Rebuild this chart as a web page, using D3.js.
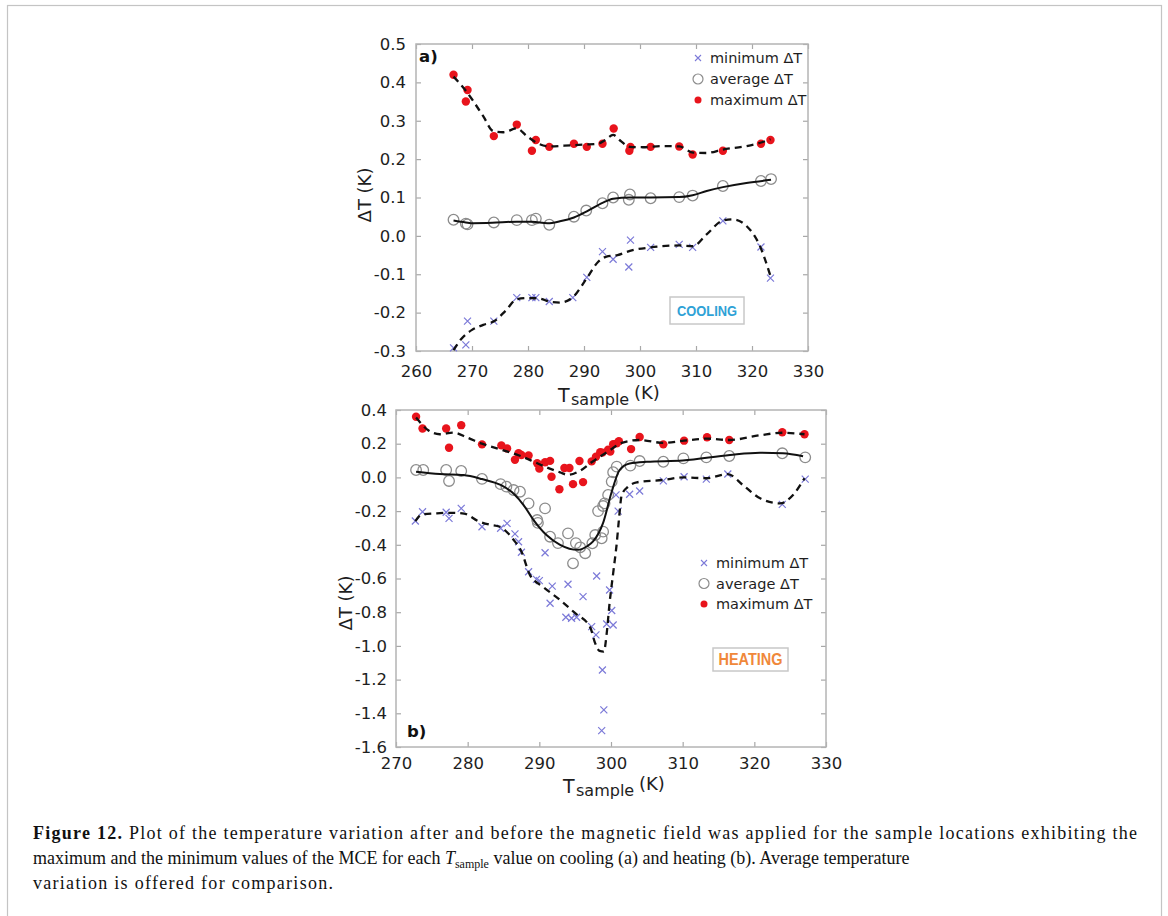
<!DOCTYPE html>
<html>
<head>
<meta charset="utf-8">
<script src="https://cdn.jsdelivr.net/npm/d3@7"></script>
<style>
  body { margin: 0; background: #fff; }
  svg { display: block; }
</style>
</head>
<body>
<div id="chart"></div>
<script>
// values: [T_sample (K), deltaT (K)]
const coolingMin = [[266.7,-0.292],[268.9,-0.284],[269.2,-0.222],[273.9,-0.222],[278.0,-0.161],[280.7,-0.161],[281.4,-0.161],[283.8,-0.171],[288.0,-0.161],[290.5,-0.108],[293.3,-0.041],[295.2,-0.061],[298.0,-0.081],[298.3,-0.011],[301.9,-0.03],[307.0,-0.022],[309.4,-0.03],[314.8,0.039],[321.6,-0.029],[323.3,-0.11]];
const coolingAvg = [[266.7,0.042],[268.9,0.032],[269.2,0.03],[273.9,0.035],[278.0,0.041],[280.7,0.041],[281.4,0.045],[283.8,0.029],[288.2,0.05],[290.4,0.066],[293.3,0.085],[295.2,0.1],[298.0,0.094],[298.2,0.108],[301.9,0.098],[307.0,0.101],[309.4,0.105],[314.8,0.13],[321.6,0.143],[323.4,0.148]];
const coolingMax = [[266.7,0.42],[268.9,0.35],[269.2,0.38],[273.9,0.26],[278.0,0.29],[280.7,0.222],[281.4,0.25],[283.8,0.232],[288.2,0.24],[290.5,0.232],[293.3,0.24],[295.3,0.28],[298.1,0.222],[298.3,0.232],[301.9,0.232],[307.0,0.233],[309.4,0.212],[314.8,0.222],[321.6,0.24],[323.3,0.25]];

// smoothed trend curves as drawn in the figure
const coolingMinFit = [[266.7,-0.298],[268,-0.27],[270,-0.245],[272,-0.232],[274,-0.222],[276,-0.195],[278,-0.165],[280,-0.162],[282,-0.163],[284,-0.172],[285.7,-0.174],[288,-0.16],[290.5,-0.11],[292.5,-0.068],[294,-0.054],[296,-0.05],[298.2,-0.039],[301.9,-0.03],[307,-0.025],[309.4,-0.027],[311.9,0.004],[314.8,0.04],[316.6,0.043],[319,0.026],[321.4,-0.026],[323.3,-0.105]];
const coolingAvgFit = [[266.7,0.04],[268.9,0.035],[270.2,0.033],[273.6,0.034],[278,0.037],[280.7,0.037],[283.5,0.033],[285.7,0.038],[288.2,0.048],[290.5,0.064],[293.3,0.086],[295.2,0.097],[298.2,0.1],[301.9,0.1],[307,0.101],[309.4,0.106],[311.9,0.117],[314.8,0.127],[319,0.138],[323.4,0.146]];
const coolingMaxFit = [[266.7,0.415],[268.8,0.38],[270,0.356],[272,0.312],[273.8,0.273],[275.6,0.27],[278,0.28],[279.8,0.26],[281.5,0.243],[283.9,0.233],[286.5,0.235],[289.9,0.238],[292.5,0.24],[293.8,0.25],[295.2,0.263],[296.5,0.248],[298.2,0.232],[300.5,0.231],[304,0.234],[307,0.233],[309.5,0.217],[311.9,0.216],[314.8,0.225],[319,0.234],[321.8,0.244],[323.3,0.252]];

const heatingMin = [[272.7,-0.259],[273.7,-0.204],[277.0,-0.207],[277.4,-0.243],[279.1,-0.184],[282.0,-0.293],[284.6,-0.302],[285.5,-0.273],[286.6,-0.335],[287.1,-0.382],[287.5,-0.444],[288.5,-0.56],[289.6,-0.605],[290.0,-0.613],[290.8,-0.447],[291.5,-0.747],[291.8,-0.645],[293.7,-0.83],[294.0,-0.634],[294.5,-0.836],[295.2,-0.83],[296.1,-0.708],[297.3,-0.886],[297.9,-0.935],[298.0,-0.585],[298.8,-1.143],[299.0,-1.38],[298.7,-1.503],[299.4,-0.87],[299.8,-0.668],[300.1,-0.79],[300.3,-0.876],[300.7,-0.104],[301.0,-0.2],[302.6,-0.1],[304.0,-0.081],[307.3,-0.021],[310.2,0.004],[313.3,-0.01],[316.3,0.02],[323.9,-0.16],[327.1,-0.01]];
const heatingAvg = [[272.8,0.044],[273.8,0.044],[277.0,0.044],[277.4,-0.021],[279.1,0.038],[282.0,-0.009],[284.6,-0.04],[285.4,-0.055],[286.4,-0.075],[287.3,-0.085],[288.5,-0.154],[289.7,-0.253],[289.8,-0.27],[290.8,-0.184],[291.5,-0.352],[292.6,-0.39],[294.0,-0.332],[294.7,-0.51],[295.1,-0.39],[295.7,-0.415],[296.4,-0.45],[297.4,-0.391],[297.8,-0.342],[298.2,-0.2],[298.7,-0.361],[298.9,-0.322],[298.9,-0.17],[299.1,-0.154],[299.6,-0.104],[300.1,-0.025],[300.3,0.031],[300.8,0.064],[302.7,0.07],[304.0,0.097],[307.3,0.093],[310.1,0.113],[313.3,0.119],[316.5,0.127],[323.9,0.143],[327.1,0.119]];
const heatingMax = [[272.8,0.36],[273.7,0.29],[277.0,0.29],[277.4,0.176],[279.1,0.31],[282.0,0.196],[284.7,0.19],[285.5,0.172],[286.6,0.105],[287.1,0.143],[287.5,0.133],[288.5,0.13],[289.7,0.084],[290.0,0.052],[290.8,0.09],[291.5,0.098],[291.7,0.004],[292.8,-0.07],[293.5,0.056],[294.2,0.056],[294.7,-0.04],[295.6,0.097],[296.1,-0.028],[297.3,0.095],[297.9,0.123],[298.5,0.15],[298.8,0.147],[299.6,0.165],[299.9,0.153],[300.3,0.197],[300.8,0.202],[301.1,0.215],[302.8,0.168],[304.0,0.24],[307.3,0.196],[310.2,0.218],[313.4,0.238],[316.5,0.222],[323.9,0.268],[327.0,0.256]];

const heatingMinFit = [[272.7,-0.26],[273.6,-0.22],[275.7,-0.213],[277.7,-0.21],[279.5,-0.215],[281.5,-0.26],[283,-0.28],[284.5,-0.293],[285.6,-0.33],[286.4,-0.37],[287.5,-0.44],[288.7,-0.58],[290.5,-0.649],[292.9,-0.728],[295,-0.806],[297.1,-0.89],[297.8,-0.985],[298.4,-1.03],[299.0,-1.034],[299.4,-0.926],[299.8,-0.747],[300.3,-0.569],[300.8,-0.391],[301.1,-0.253],[301.5,-0.104],[302.4,-0.055],[303.6,-0.029],[307.3,-0.015],[310.1,0.0],[313.3,-0.005],[316.3,0.02],[318.4,-0.045],[320.8,-0.124],[323.6,-0.154],[325.4,-0.104],[327,-0.005]];
const heatingAvgFit = [[272.8,0.034],[276.1,0.02],[279.4,0.014],[282,-0.01],[284.6,-0.045],[286.5,-0.1],[287.8,-0.164],[289.2,-0.253],[291,-0.342],[292.9,-0.4],[295.4,-0.43],[296.6,-0.41],[297.5,-0.38],[298.9,-0.27],[300.1,-0.085],[301.2,0.044],[302.6,0.083],[305,0.093],[310,0.1],[316.6,0.133],[320.8,0.146],[324,0.143],[326.8,0.125]];
const heatingMaxFit = [[272.8,0.355],[274.5,0.28],[276.1,0.256],[278,0.266],[280,0.235],[282,0.2],[284.6,0.165],[287.2,0.13],[289.4,0.09],[291,0.06],[292.9,0.03],[294,0.015],[295.7,0.04],[297.3,0.09],[299.8,0.16],[301.5,0.205],[304,0.222],[307.3,0.205],[310.2,0.218],[313.4,0.23],[316.5,0.222],[320.8,0.25],[323.9,0.265],[327,0.256]];

const coolingXTicks = [260, 270, 280, 290, 300, 310, 320, 330];
const coolingYTicks = [-0.3, -0.2, -0.1, 0.0, 0.1, 0.2, 0.3, 0.4, 0.5];
const heatingXTicks = [270, 280, 290, 300, 310, 320, 330];
const heatingYTicks = [-1.6, -1.4, -1.2, -1.0, -0.8, -0.6, -0.4, -0.2, 0.0, 0.2, 0.4];
const legendLabels = ["minimum \u0394T", "average \u0394T", "maximum \u0394T"];

const FONT = "'DejaVu Sans', sans-serif";
const colMin = "#7c7ad8";
const colAvg = "#8c8c8c";
const colMax = "#e8141c";
const colFrame = "#b4b4b4";

const svg = d3.select("#chart").append("svg")
  .attr("width", 1168).attr("height", 916)
  .style("font-family", FONT);

// outer figure frame
svg.append("rect")
  .attr("x", 7.5).attr("y", 5.5).attr("width", 1154).attr("height", 930)
  .attr("fill", "none").attr("stroke", "#c4c4c4").attr("stroke-width", 1.2);

function drawMarkers(g, data, kind, x, y) {
  if (kind === "min") {
    g.selectAll(null).data(data).enter().append("path")
      .attr("d", d => `M${x(d[0]) - 3.5},${y(d[1]) - 3.5}l7,7M${x(d[0]) - 3.5},${y(d[1]) + 3.5}l7,-7`)
      .attr("stroke", colMin).attr("stroke-width", 1.2).attr("fill", "none");
  } else if (kind === "avg") {
    g.selectAll(null).data(data).enter().append("circle")
      .attr("cx", d => x(d[0])).attr("cy", d => y(d[1])).attr("r", 5.3)
      .attr("fill", "none").attr("stroke", colAvg).attr("stroke-width", 1.3);
  } else {
    g.selectAll(null).data(data).enter().append("circle")
      .attr("cx", d => x(d[0])).attr("cy", d => y(d[1])).attr("r", 4.2)
      .attr("fill", colMax);
  }
}

function drawPanel(p) {
  const x = d3.scaleLinear().domain(p.xDomain).range(p.xRange);
  const y = d3.scaleLinear().domain(p.yDomain).range(p.yRange);
  const g = svg.append("g");
  const fmt = d => d.toFixed(1);

  g.append("g").attr("transform", `translate(${p.xRange[0]},0)`)
    .call(d3.axisLeft(y).tickValues(p.yTicks).tickFormat(fmt).tickSizeInner(-5).tickSizeOuter(0).tickPadding(p.yPad));
  g.append("g").attr("transform", `translate(0,${p.yRange[0]})`)
    .call(d3.axisBottom(x).tickValues(p.xTicks).tickFormat(d3.format("d")).tickSizeInner(-5).tickSizeOuter(0).tickPadding(p.xPad));
  g.append("g").attr("transform", `translate(${p.xRange[1]},0)`)
    .call(d3.axisRight(y).tickValues(p.yTicks).tickFormat("").tickSizeInner(-5).tickSizeOuter(0));
  g.append("g").attr("transform", `translate(0,${p.yRange[1]})`)
    .call(d3.axisTop(x).tickValues(p.xTicks).tickFormat("").tickSizeInner(-5).tickSizeOuter(0));

  g.selectAll(".domain").remove();
  g.selectAll(".tick line").attr("stroke", "#a8a8a8").attr("stroke-width", 1.2);
  g.selectAll(".tick text").attr("fill", "#1e1e1e").style("font-family", FONT).style("font-size", "16.5px");

  g.append("rect")
    .attr("x", p.xRange[0]).attr("y", p.yRange[1])
    .attr("width", p.xRange[1] - p.xRange[0]).attr("height", p.yRange[0] - p.yRange[1])
    .attr("fill", "none").attr("stroke", colFrame).attr("stroke-width", 1.5);

  // markers, then trend curves on top
  drawMarkers(g, p.min, "min", x, y);
  drawMarkers(g, p.avg, "avg", x, y);
  drawMarkers(g, p.max, "max", x, y);

  const line = d3.line().x(d => x(d[0])).y(d => y(d[1])).curve(d3.curveMonotoneX);
  g.append("path").datum(p.minFit).attr("d", line)
    .attr("fill", "none").attr("stroke", "#111").attr("stroke-width", 2.3).attr("stroke-dasharray", "7,5");
  g.append("path").datum(p.maxFit).attr("d", line)
    .attr("fill", "none").attr("stroke", "#111").attr("stroke-width", 2.3).attr("stroke-dasharray", "7,5");
  g.append("path").datum(p.avgFit).attr("d", line)
    .attr("fill", "none").attr("stroke", "#111").attr("stroke-width", 2);

  // panel letter
  g.append("text").attr("x", p.letterPos[0]).attr("y", p.letterPos[1])
    .attr("font-weight", "bold").attr("font-size", 16.5).attr("fill", "#111").text(p.letter);

  // y axis title
  g.append("text")
    .attr("transform", `translate(${p.yTitlePos[0]},${p.yTitlePos[1]}) rotate(-90)`)
    .attr("text-anchor", "middle").attr("font-size", 18).attr("fill", "#1e1e1e")
    .text("\u0394T (K)");

  // x axis title with subscript
  const t = p.xTitlePos;
  g.append("text").attr("x", t[0]).attr("y", t[1]).attr("font-size", 19).attr("fill", "#1e1e1e").text("T");
  g.append("text").attr("x", t[0] + 13).attr("y", t[1] + 3).attr("font-size", 16).attr("fill", "#1e1e1e").text("sample");
  g.append("text").attr("x", t[0] + 76).attr("y", t[1] - 3).attr("font-size", 18).attr("fill", "#1e1e1e").text("(K)");

  // legend
  const lg = g.append("g").attr("transform", `translate(${p.legendPos[0]},${p.legendPos[1]})`);
  legendLabels.forEach((label, i) => {
    const ly = i * p.legendStep;
    if (i === 0) {
      lg.append("path").attr("d", `M-3,${ly - 3}l6,6M-3,${ly + 3}l6,-6`)
        .attr("stroke", colMin).attr("stroke-width", 1.1);
    } else if (i === 1) {
      lg.append("circle").attr("cx", 0).attr("cy", ly).attr("r", 5)
        .attr("fill", "none").attr("stroke", colAvg).attr("stroke-width", 1.2);
    } else {
      lg.append("circle").attr("cx", 0).attr("cy", ly).attr("r", 3.5).attr("fill", colMax);
    }
    lg.append("text").attr("x", 12).attr("y", ly).attr("dy", "0.36em")
      .attr("font-size", 14.5).attr("fill", "#1e1e1e").text(label);
  });

  // mode box
  const b = p.modeBox;
  g.append("rect").attr("x", b[0]).attr("y", b[1]).attr("width", b[2]).attr("height", b[3])
    .attr("fill", "#fff").attr("stroke", "#c8c8c8").attr("stroke-width", 1.5);
  g.append("text").attr("x", b[0] + b[2] / 2).attr("y", b[1] + b[3] / 2).attr("dy", "0.36em")
    .attr("text-anchor", "middle").attr("font-weight", "bold").attr("font-size", p.modeSize)
    .attr("textLength", p.modeLen).attr("lengthAdjust", "spacingAndGlyphs")
    .attr("fill", p.modeColor).style("font-family", "'Liberation Sans', sans-serif").text(p.mode);
}

drawPanel({
  xDomain: [260, 330], xRange: [416, 808],
  yDomain: [-0.3, 0.5], yRange: [351, 44],
  xTicks: coolingXTicks, yTicks: coolingYTicks, xPad: 14, yPad: 10,
  min: coolingMin, avg: coolingAvg, max: coolingMax,
  minFit: coolingMinFit, avgFit: coolingAvgFit, maxFit: coolingMaxFit,
  letter: "a)", letterPos: [419, 62],
  yTitlePos: [371, 195], xTitlePos: [558, 402],
  legendPos: [698, 58], legendStep: 21,
  modeBox: [670, 297, 74, 27], mode: "COOLING", modeColor: "#2fa2d6", modeSize: 15, modeLen: 60
});

drawPanel({
  xDomain: [270, 330], xRange: [396, 826],
  yDomain: [-1.6, 0.4], yRange: [747, 410],
  xTicks: heatingXTicks, yTicks: heatingYTicks, xPad: 10, yPad: 9,
  min: heatingMin, avg: heatingAvg, max: heatingMax,
  minFit: heatingMinFit, avgFit: heatingAvgFit, maxFit: heatingMaxFit,
  letter: "b)", letterPos: [407, 737],
  yTitlePos: [352, 603], xTitlePos: [563, 793],
  legendPos: [704, 563], legendStep: 20.5,
  modeBox: [713, 648, 75, 23], mode: "HEATING", modeColor: "#f0883a", modeSize: 16, modeLen: 64
});

// caption
const cap = svg.append("g").style("font-family", "'Liberation Serif', serif").attr("fill", "#111");
const l1 = cap.append("text").attr("x", 33).attr("y", 839).attr("font-size", 18)
  .attr("textLength", 1104).attr("lengthAdjust", "spacing");
l1.append("tspan").attr("font-weight", "bold").text("Figure 12.");
l1.append("tspan").text(" Plot of the temperature variation after and before the magnetic field was applied for the sample locations exhibiting the");
const l2 = cap.append("text").attr("x", 33).attr("y", 864).attr("font-size", 18);
l2.append("tspan").text("maximum and the minimum values of the MCE for each ");
l2.append("tspan").attr("font-style", "italic").text("T");
l2.append("tspan").attr("font-size", 12).attr("dy", 4).text("sample");
l2.append("tspan").attr("dy", -4).text(" value on cooling (a) and heating (b). Average temperature");
cap.append("text").attr("x", 33).attr("y", 889).attr("font-size", 18)
  .attr("textLength", 300).attr("lengthAdjust", "spacing")
  .text("variation is offered for comparison.");
</script>
</body>
</html>
